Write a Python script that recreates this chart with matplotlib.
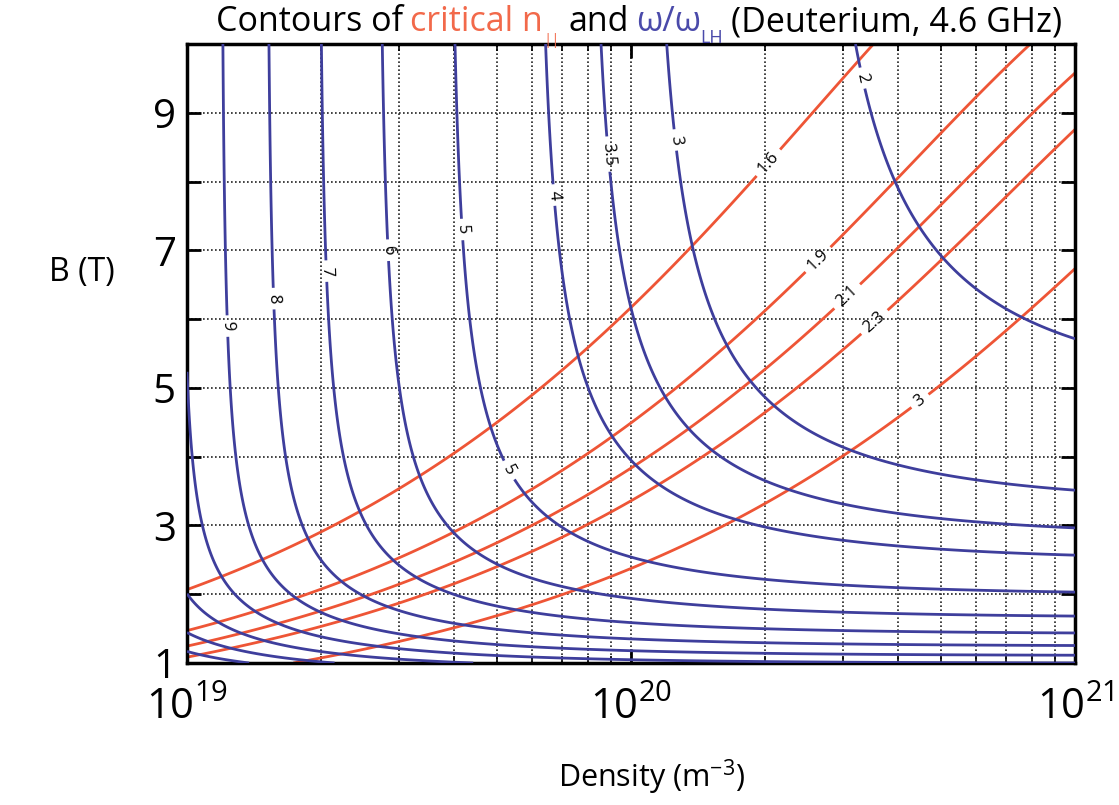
"""Contours of critical n_par and w/w_LH for deuterium at 4.6 GHz."""
import numpy as np
import matplotlib
matplotlib.use("Agg")
import matplotlib.pyplot as plt  # noqa: E402
from matplotlib.ticker import FixedLocator, LogLocator, NullFormatter, FixedFormatter  # noqa: E402
from matplotlib.transforms import IdentityTransform  # noqa: E402

plt.rcParams["font.family"] = ["Open Sans", "DejaVu Sans"]

_RED = "#EE5536"
_BLUE = "#3E3E9C"
_RED_TXT = "#F2694A"
_BLUE_TXT = "#4A4AAA"

# --- data -------------------------------------------------------------
FREQ_HZ = 4.6e9
ION_MASS_AMU = 2.014          # deuterium

density = np.logspace(19, 21, 600)   # m^-3
field = np.linspace(1, 10, 600)      # T

nll_levels = [1.6, 1.9, 2.1, 2.3, 3.0]
ratio_levels = [2, 3, 3.5, 4, 5, 6, 7, 8, 9, 10, 11, 12, 13]

x_ticks = [1e19, 1e20, 1e21]
x_ticklabels = [r"$\mathregular{10^{19}}$", r"$\mathregular{10^{20}}$",
                r"$\mathregular{10^{21}}$"]
y_ticks = [1, 2, 3, 4, 5, 6, 7, 8, 9, 10]
y_ticklabels = ["1", "", "3", "", "5", "", "7", "", "9", ""]

# where the inline labels sit (density, B)
nll_label_pts = [(2.1e20, 8.2), (2.7e20, 6.8), (3.1e20, 6.3),
                 (3.6e20, 5.9), (4.55e20, 4.75)]
ratio_label_pts = [(1.25e19, 5.9), (1.6e19, 6.3), (2.1e19, 6.7),
                   (2.8e19, 7.0), (4.1e19, 7.3), (5.3e19, 3.8),
                   (6.6e19, 7.8), (8.9e19, 8.4), (1.24e20, 8.6),
                   (3.3e20, 9.5)]

# --- plasma quantities ------------------------------------------------
E = 1.602e-19
ME = 9.109e-31
MP = 1.6605e-27
EPS0 = 8.854e-12

N, B = np.meshgrid(density, field)
w = 2 * np.pi * FREQ_HZ
wpe2 = N * E**2 / (EPS0 * ME)
wpi2 = N * E**2 / (EPS0 * ION_MASS_AMU * MP)
wce = E * B / ME
x2 = wpe2 / wce**2
w_lh = np.sqrt(wpi2 / (1 + x2))
ratio = w / w_lh
n_crit = np.sqrt(x2) + np.sqrt(1 + x2 - wpi2 / w**2)

# --- figure -----------------------------------------------------------
W, H = 1119, 805
fig = plt.figure(figsize=(W / 100, H / 100), dpi=100)
ax = fig.add_axes([187 / W, 1 - 663 / H, (1075 - 187) / W, (663 - 44) / H])
ax.set_xscale("log")

grid_kw = dict(color="#222222", linestyle=(0, (1, 1.4)), linewidth=1.2, zorder=0)
for v in np.concatenate([np.arange(1, 10) * 1e19, np.arange(1, 10) * 1e20]):
    ax.axvline(v, **grid_kw)
for v in y_ticks:
    ax.axhline(v, **grid_kw)

cs_r = ax.contour(N, B, n_crit, levels=nll_levels, colors=_RED, linewidths=2.0, zorder=2)
cs_b = ax.contour(N, B, ratio, levels=ratio_levels, colors=_BLUE, linewidths=2.0, zorder=3)

ax.clabel(cs_b, fontsize=12, colors="black", inline=True, inline_spacing=6,
          manual=ratio_label_pts, fmt=lambda v: f"{v:g}")
ax.clabel(cs_r, fontsize=12, colors="black", inline=True, inline_spacing=6,
          manual=nll_label_pts, fmt=lambda v: f"{v:g}")

ax.set_xlim(1e19, 1e21)
ax.set_ylim(1, 10)

ax.xaxis.set_major_locator(FixedLocator(x_ticks))
ax.xaxis.set_major_formatter(FixedFormatter(x_ticklabels))
ax.xaxis.set_minor_locator(LogLocator(base=10, subs=np.arange(2, 10)))
ax.xaxis.set_minor_formatter(NullFormatter())
ax.yaxis.set_major_locator(FixedLocator(y_ticks))
ax.yaxis.set_major_formatter(FixedFormatter(y_ticklabels))

ax.tick_params(which="both", direction="in", top=True, right=True, width=2)
ax.tick_params(which="major", length=10)
ax.tick_params(which="minor", length=5, width=1.2)
ax.tick_params(axis="x", labelsize=30, pad=17)
ax.tick_params(axis="y", labelsize=29, pad=8)
for sp in ax.spines.values():
    sp.set_linewidth(2.5)

fig.text(82 / W, 1 - 272 / H, "B (T)", fontsize=23, ha="center", va="center")
fig.text(651 / W, 1 - 777 / H, r"Density (m$\mathregular{^{-3}}$)", fontsize=22,
         ha="center", va="center")

# multicolour title, pieces laid out left to right in pixels
pieces = [
    ("Contours of", "black", 24.5, 0, 7),
    ("critical n", _RED_TXT, 24.5, 0, 1),
    ("||", _RED_TXT, 11, -13, 8),
    ("and", "black", 24.5, 0, 7),
    ("\u03c9/\u03c9", _BLUE_TXT, 24.5, 0, 0),
    ("LH", _BLUE_TXT, 13, -12, 8),
    ("(Deuterium, 4.6 GHz)", "black", 24.5, 0, 0),
]
renderer = fig.canvas.get_renderer()
x_px, base_px = 216, H - 31
for txt, col, size, dy, gap in pieces:
    t = fig.text(x_px, base_px + dy, txt, color=col, fontsize=size,
                 va="baseline", ha="left", transform=IdentityTransform())
    x_px += t.get_window_extent(renderer).width + gap

fig.savefig("out.png", dpi=100)
